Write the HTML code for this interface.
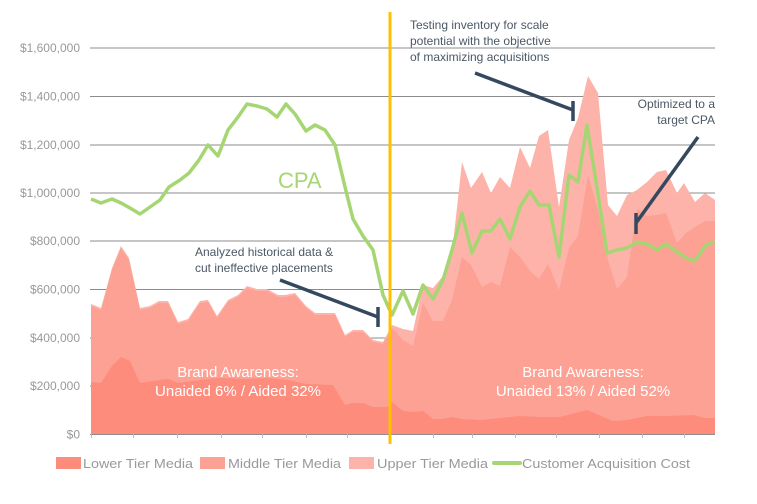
<!DOCTYPE html>
<html><head><meta charset="utf-8"><style>
html,body{margin:0;padding:0;background:#fff;}
svg{display:block;font-family:"Liberation Sans",sans-serif;}
</style></head><body>
<svg width="757" height="504" viewBox="0 0 757 504" xmlns="http://www.w3.org/2000/svg">
<g stroke="#8c8c8c" stroke-width="1">
<line x1="90" y1="48" x2="715" y2="48"/><line x1="90" y1="96.5" x2="715" y2="96.5"/>
<line x1="90" y1="145" x2="715" y2="145"/><line x1="90" y1="193" x2="715" y2="193"/>
<line x1="90" y1="241" x2="715" y2="241"/><line x1="90" y1="289.5" x2="715" y2="289.5"/>
<line x1="90" y1="338" x2="715" y2="338"/><line x1="90" y1="386" x2="715" y2="386"/>
<line x1="90" y1="434.5" x2="715" y2="434.5"/>
</g>
<g stroke="#bbb" stroke-width="1">
<line x1="91.5" y1="434" x2="91.5" y2="438"/><line x1="133.5" y1="434" x2="133.5" y2="438"/><line x1="177.5" y1="434" x2="177.5" y2="438"/><line x1="221.5" y1="434" x2="221.5" y2="438"/><line x1="262.5" y1="434" x2="262.5" y2="438"/><line x1="306.5" y1="434" x2="306.5" y2="438"/><line x1="347.5" y1="434" x2="347.5" y2="438"/><line x1="433.5" y1="434" x2="433.5" y2="438"/><line x1="472.5" y1="434" x2="472.5" y2="438"/><line x1="515.5" y1="434" x2="515.5" y2="438"/><line x1="556.5" y1="434" x2="556.5" y2="438"/><line x1="599.5" y1="434" x2="599.5" y2="438"/><line x1="642.5" y1="434" x2="642.5" y2="438"/><line x1="684.5" y1="434" x2="684.5" y2="438"/>
</g>
<g font-size="12" fill="#999" text-anchor="end">
<text x="80" y="52">$1,600,000</text><text x="80" y="100.5">$1,400,000</text>
<text x="80" y="149">$1,200,000</text><text x="80" y="197">$1,000,000</text>
<text x="80" y="245">$800,000</text><text x="80" y="293.5">$600,000</text>
<text x="80" y="342">$400,000</text><text x="80" y="390">$200,000</text>
<text x="80" y="438.5">$0</text>
</g>
<polygon fill="#fdb3a9" points="91,434 91,304 101,308 112,268 121,246 129,258 140,308 150,306 159,301 168,301 178,322 188,319 200,301 208,300 217,316 228,300 238,295 247,286 257,289 267,289 278,295 285,295 295,293 306,306 315,313 325,313 335,313 345,335 353,330 363,330 373,340 383,342 392,325 403,329 413,331 423,285 433,288 443,276 452,253 462,162 471,188 482,172 491,193 500,177 510,188 520,147 530,168 539,136 548,130 559,207 569,140 578,118 588,76 598,93 608,205 617,216 627,195 637,190 647,182 657,172 666,170 677,193 684,183 695,202 705,193 715,200 715,434"/>
<polygon fill="#fca194" points="91,434 91,306 101,310 112,270 121,248 129,260 140,310 150,308 159,303 168,303 178,324 188,321 200,303 208,302 217,318 228,302 238,297 247,288 257,291 267,291 278,297 285,297 295,295 306,308 315,315 325,315 335,315 345,337 353,332 363,332 373,342 383,344 392,328 403,340 413,346 423,303 433,321 443,321 452,300 462,257 471,265 482,287 491,282 500,286 510,247 520,257 530,271 539,279 548,264 559,290 569,248 578,236 588,175 598,210 608,260 617,289 627,277 637,209 647,216 657,215 666,213 677,243 686,233 695,227 705,221 715,221 715,434"/>
<polygon fill="#fd8c7d" points="91,434 91,382 101,383 112,366 121,357 130,361 140,383 160,380 168,379 178,383 200,380 218,378 247,379 267,378 287,380 307,384 333,385 345,405 353,403 363,403 373,407 387,407 392,402 403,411 413,412 423,411 433,419 443,419 452,417 462,419 480,420 500,418 520,416 540,417 560,417 587,410 613,421 627,420 647,416 667,416 693,415 705,418 715,418 715,434"/>
<polyline fill="none" stroke="#a6d673" stroke-width="3.5" stroke-linejoin="round" points="91,199 101,203 112,199 121,203 130,208 140,214 150,207 160,200 169,187 180,180 189,173 199,160 208,145 218,156 228,130 238,117 247,104 257,106 267,109 277,117 286,104 295,114 306,131 315,125 325,130 335,145 345,187 353,219 363,236 373,250 383,295 392,315 403,291 413,314 423,285 433,299 443,280 452,250 462,213 472,253 482,231 491,231 500,219 510,239 520,207 530,191 539,205 549,205 559,257 569,175 578,182 587,125 597,188 607,253 617,250 627,248 637,242 647,244 657,250 666,244 677,252 686,258 695,261 706,245 715,242"/>
<line x1="390" y1="12" x2="390" y2="444" stroke="#ffc000" stroke-width="3"/>
<g stroke="#34495e" stroke-width="3.5">
<line x1="280" y1="280" x2="378" y2="317"/><line x1="378" y1="307" x2="378" y2="327"/>
<line x1="475" y1="73" x2="573" y2="110"/><line x1="573" y1="101" x2="573" y2="121"/>
<line x1="698" y1="137" x2="636" y2="223"/><line x1="636" y1="213" x2="636" y2="234"/>
</g>
<g font-size="12" fill="#4a5866">
<text x="195" y="256">Analyzed historical data &amp;</text>
<text x="195" y="272">cut ineffective placements</text>
<text x="410" y="29">Testing inventory for scale</text>
<text x="410" y="45">potential with the objective</text>
<text x="410" y="61">of maximizing acquisitions</text>
<text x="715" y="108" text-anchor="end">Optimized to a</text>
<text x="715" y="124" text-anchor="end">target CPA</text>
</g>
<text x="278" y="188" font-size="22" fill="#a6d673">CPA</text>
<g font-size="15" fill="#fff" text-anchor="middle">
<text x="238" y="377">Brand Awareness:</text>
<text x="238" y="396">Unaided 6% / Aided 32%</text>
<text x="583" y="377">Brand Awareness:</text>
<text x="583" y="396">Unaided 13% / Aided 52%</text>
</g>
<g font-size="13" fill="#999">
<rect x="56" y="457" width="25" height="12" fill="#fd8c7d"/><text x="83" y="468" textLength="110" lengthAdjust="spacingAndGlyphs">Lower Tier Media</text>
<rect x="200" y="457" width="25" height="12" fill="#fca194"/><text x="228" y="468" textLength="113" lengthAdjust="spacingAndGlyphs">Middle Tier Media</text>
<rect x="349" y="457" width="25" height="12" fill="#fdb3a9"/><text x="377" y="468" textLength="111" lengthAdjust="spacingAndGlyphs">Upper Tier Media</text>
<line x1="494" y1="463" x2="520" y2="463" stroke="#a6d673" stroke-width="4" stroke-linecap="round"/><text x="522" y="468" textLength="168" lengthAdjust="spacingAndGlyphs">Customer Acquisition Cost</text>
</g>
</svg>
</body></html>
